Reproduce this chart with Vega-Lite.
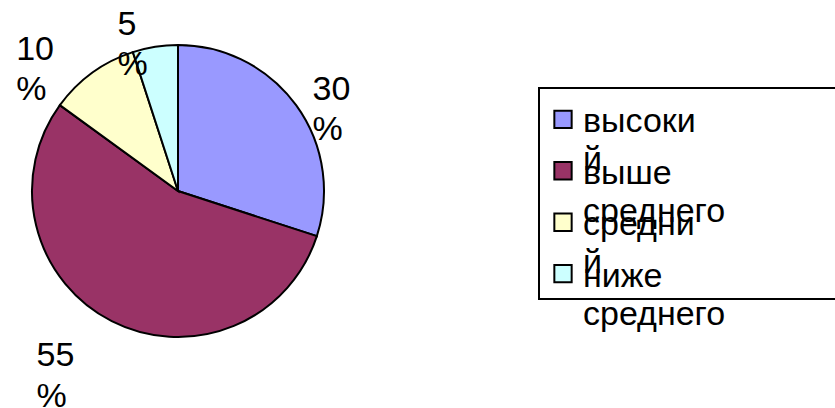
{
  "$schema": "https://vega.github.io/schema/vega-lite/v6.json",
  "padding": 0,
  "background": "white",
  "config": {"view": {"stroke": null}, "font": "Liberation Sans"},
  "datasets": {
    "shares": [
      {"idx": 1, "name": "высокий", "wrapped": "высоки\nй", "value": 30},
      {"idx": 2, "name": "выше среднего", "wrapped": "выше\nсреднего", "value": 55},
      {"idx": 3, "name": "средний", "wrapped": "средни\nй", "value": 10},
      {"idx": 4, "name": "ниже среднего", "wrapped": "ниже\nсреднего", "value": 5}
    ]
  },
  "hconcat": [
    {
      "width": 356,
      "height": 382,
      "view": {"stroke": null},
      "data": {"name": "shares"},
      "transform": [
        {"stack": "value", "groupby": [], "sort": [{"field": "idx", "order": "ascending"}], "as": ["v0", "v1"]},
        {"calculate": "(datum.v0 + datum.v1) / 2", "as": "mid"},
        {"calculate": "datum.value + '\\n%'", "as": "pct"}
      ],
      "layer": [
        {
          "mark": {"type": "arc", "outerRadius": 146, "stroke": "black", "strokeWidth": 2},
          "encoding": {
            "theta": {"field": "v0", "type": "quantitative", "scale": {"domain": [0, 100]}},
            "theta2": {"field": "v1"},
            "color": {
              "field": "name", "type": "nominal",
              "scale": {"domain": ["высокий", "выше среднего", "средний", "ниже среднего"], "range": ["#9999FF", "#993366", "#FFFFCC", "#CCFFFF"]},
              "legend": null
            }
          }
        },
        {
          "transform": [{"filter": "datum.idx === 1"}],
          "mark": {"type": "text", "radius": 175, "align": "left", "baseline": "top", "fontSize": 34, "lineHeight": 40, "lineBreak": "\n", "dx": -7, "dy": -15, "color": "black"},
          "encoding": {"theta": {"field": "mid", "type": "quantitative", "scale": {"domain": [0, 100]}}, "text": {"field": "pct"}}
        },
        {
          "transform": [{"filter": "datum.idx === 2"}],
          "mark": {"type": "text", "radius": 175, "align": "left", "baseline": "top", "fontSize": 34, "lineHeight": 41, "lineBreak": "\n", "dx": -62, "dy": -8, "color": "black"},
          "encoding": {"theta": {"field": "mid", "type": "quantitative", "scale": {"domain": [0, 100]}}, "text": {"field": "pct"}}
        },
        {
          "transform": [{"filter": "datum.idx === 3"}],
          "mark": {"type": "text", "radius": 175, "align": "left", "baseline": "top", "fontSize": 34, "lineHeight": 40, "lineBreak": "\n", "dx": -59, "dy": -16, "color": "black"},
          "encoding": {"theta": {"field": "mid", "type": "quantitative", "scale": {"domain": [0, 100]}}, "text": {"field": "pct"}}
        },
        {
          "transform": [{"filter": "datum.idx === 4"}],
          "mark": {"type": "text", "radius": 175, "align": "left", "baseline": "top", "fontSize": 34, "lineHeight": 40, "lineBreak": "\n", "dx": -33, "dy": -10, "color": "black"},
          "encoding": {"theta": {"field": "mid", "type": "quantitative", "scale": {"domain": [0, 100]}}, "text": {"field": "pct"}}
        }
      ]
    },
    {
      "spacing": 0,
      "vconcat": [
        {
          "width": 310,
          "height": 87,
          "view": {"stroke": null},
          "data": {"values": [{}]},
          "mark": {"type": "text", "text": ""},
          "encoding": {}
        },
        {
          "width": 310,
          "height": 211,
          "view": {"stroke": "black", "strokeWidth": 2},
          "data": {"name": "shares"},
          "encoding": {
            "y": {"field": "name", "type": "nominal", "sort": ["высокий", "выше среднего", "средний", "ниже среднего"], "scale": {"type": "point", "padding": 0.55}, "axis": null},
            "x": {"datum": 0, "type": "quantitative", "scale": {"domain": [0, 1]}, "axis": null}
          },
          "layer": [
            {
              "mark": {"type": "square", "size": 300, "filled": true, "stroke": "black", "strokeWidth": 2, "opacity": 1, "xOffset": 24, "yOffset": 3},
              "encoding": {
                "color": {"field": "name", "type": "nominal", "scale": {"domain": ["высокий", "выше среднего", "средний", "ниже среднего"], "range": ["#9999FF", "#993366", "#FFFFCC", "#CCFFFF"]}, "legend": null}
              }
            },
            {
              "mark": {"type": "text", "align": "left", "baseline": "top", "fontSize": 34, "lineHeight": 38, "lineBreak": "\n", "dx": 44, "dy": -11, "color": "black"},
              "encoding": {"text": {"field": "wrapped"}}
            }
          ]
        }
      ]
    }
  ],
  "spacing": 182
}
